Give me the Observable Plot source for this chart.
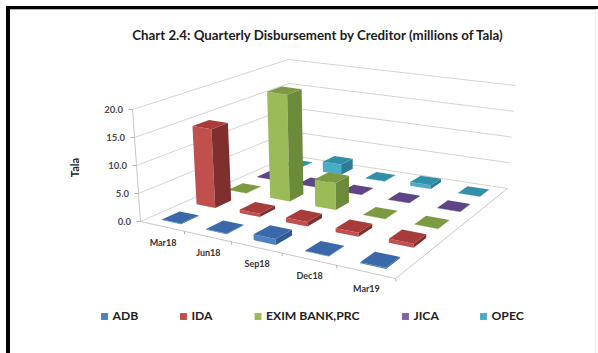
<!DOCTYPE html>
<html>
<head>
<meta charset="utf-8">
<script src="https://cdn.jsdelivr.net/npm/d3@7"></script>
<script src="https://cdn.jsdelivr.net/npm/@observablehq/plot@0.6"></script>
<style>
  html, body { margin: 0; padding: 0; background: #fff; }
  svg { display: block; }
</style>
</head>
<body>
<div id="chart"></div>
<script>
// Quarterly disbursement by creditor, millions of Tala
const quarters = ["Mar18", "Jun18", "Sep18", "Dec18", "Mar19"];
const creditors = ["ADB", "IDA", "EXIM BANK,PRC", "JICA", "OPEC"];
const adb = [0.1, 0.1, 1.0, 0.1, 0.2];
const ida = [14.5, 0.6, 0.8, 0.7, 0.7];
const exim = [0.05, 20.0, 5.0, 0.05, 0.05];
const jica = [0.05, 0.05, 0.05, 0.05, 0.05];
const opec = [0.05, 2.0, 0.05, 0.7, 0.05];
const valueTicks = [0, 5, 10, 15, 20];
const seriesValues = [adb, ida, exim, jica, opec];

// Face colours per creditor: front, top, side
const frontColors = ["#4f81bd", "#c0504d", "#9bbb59", "#8064a2", "#4bacc6"];
const topColors = ["#3a68a8", "#a83c3a", "#7c9a42", "#5f4585", "#3190a8"];
const sideColors = ["#2f5a92", "#7e2f2e", "#6b8a3a", "#4e3870", "#2b7c94"];

// Floor and ceiling corners of the 3D box on the page: [front-left, front-right, back-right, back-left]
const floorCorners = [[140, 221], [395, 278], [507, 188], [290, 155]];
const ceilCorners = [[132, 109], [399, 156], [515, 85], [288, 59]];
const maxValue = 20;

// Homography from the unit square to a quadrilateral
function homography(q) {
  const [[x0, y0], [x1, y1], [x2, y2], [x3, y3]] = q;
  const dx1 = x1 - x2, dx2 = x3 - x2, sx = x0 - x1 + x2 - x3;
  const dy1 = y1 - y2, dy2 = y3 - y2, sy = y0 - y1 + y2 - y3;
  const det = dx1 * dy2 - dx2 * dy1;
  const g = (sx * dy2 - dx2 * sy) / det;
  const h = (dx1 * sy - sx * dy1) / det;
  const a = x1 - x0 + g * x1, b = x3 - x0 + h * x3;
  const d = y1 - y0 + g * y1, e = y3 - y0 + h * y3;
  return (u, v) => {
    const w = g * u + h * v + 1;
    return [(a * u + b * v + x0) / w, (d * u + e * v + y0) / w];
  };
}
const floorAt = homography(floorCorners);
const ceilAt = homography(ceilCorners);

// u runs along the quarters (0..5), v along the creditors (0..5), z is the value
function project(u, v, z) {
  const F = floorAt(u / 5, v / 5), C = ceilAt(u / 5, v / 5), t = z / maxValue;
  return [F[0] + (C[0] - F[0]) * t, F[1] + (C[1] - F[1]) * t];
}

// Bars become three filled faces, drawn from the back of the box to the front
const halfU = 0.22, halfV = 0.25;
const faces = [];
let faceId = 0;
function addFace(corners, color) {
  const id = faceId++;
  for (const c of corners) {
    const [x, y] = project(...c);
    faces.push({ id, x, y, color });
  }
}
for (let s = creditors.length - 1; s >= 0; s--) {
  for (let q = 0; q < quarters.length; q++) {
    const value = seriesValues[s][q];
    const u0 = q + 0.5 - halfU, u1 = q + 0.5 + halfU;
    const v0 = s + 0.5 - halfV, v1 = s + 0.5 + halfV;
    addFace([[u0, v0, 0], [u1, v0, 0], [u1, v0, value], [u0, v0, value]], frontColors[s]);
    addFace([[u1, v0, 0], [u1, v1, 0], [u1, v1, value], [u1, v0, value]], sideColors[s]);
    addFace([[u0, v0, value], [u1, v0, value], [u1, v1, value], [u0, v1, value]], topColors[s]);
  }
}

const seg = (a, b) => ({ x1: a[0], y1: a[1], x2: b[0], y2: b[1] });

// Wall gridlines on the left and back sides of the box
const grid = valueTicks.flatMap((t) => [
  seg(project(0, 0, t), project(0, 5, t)),
  seg(project(0, 5, t), project(5, 5, t))
]);
// Box edges
const edges = [
  seg(project(0, 0, 0), project(0, 0, maxValue)),
  seg(project(0, 0, 0), project(5, 0, 0)),
  seg(project(5, 0, 0), project(5, 5, 0))
];
// Tick marks on the value axis and the quarter axis
const valueTickMarks = valueTicks.map((t) => {
  const p = project(0, 0, t);
  return seg([p[0] - 4, p[1]], p);
});
const quarterTickMarks = d3.range(1, 6).map((i) => {
  const p = project(i, 0, 0);
  return seg(p, [p[0] + 0.5, p[1] + 3]);
});
const valueLabels = valueTicks.map((t) => {
  const p = project(0, 0, t);
  return { x: p[0] - 9.5, y: p[1], text: t.toFixed(1) };
});
const quarterLabels = quarters.map((q, i) => {
  const p = project(i + 0.5, 0, 0);
  return { x: p[0] + 1, y: p[1] + 17, text: q };
});

// Legend row
const legendX = [104, 183, 257.5, 405, 483];
const legendY = 316;
const legendRows = creditors.map((name, i) => ({ name, x: legendX[i], color: frontColors[i] }));

const font = "Lato, 'Open Sans', sans-serif";
const chart = Plot.plot({
  width: 598,
  height: 353,
  margin: 0,
  style: { background: "#fff", fontFamily: font },
  x: { type: "identity", axis: null },
  y: { type: "identity", axis: null },
  color: { type: "identity" },
  marks: [
    // Black frame along the left and top, with a faint rule on the right
    Plot.rectX([{}], { x1: 6, x2: 10, y1: 6, y2: 353, fill: "#000" }),
    Plot.rectX([{}], { x1: 6, x2: 598, y1: 6, y2: 9, fill: "#000" }),
    Plot.rectX([{}], { x1: 10, x2: 596, y1: 9, y2: 10, fill: "#b5b5b5" }),
    Plot.rectX([{}], { x1: 595, x2: 596, y1: 10, y2: 353, fill: "#eeeeee" }),
    Plot.link(grid, { x1: "x1", y1: "y1", x2: "x2", y2: "y2", stroke: "#d4d4d4", strokeWidth: 1 }),
    Plot.link(edges, { x1: "x1", y1: "y1", x2: "x2", y2: "y2", stroke: "#c8c8c8", strokeWidth: 1 }),
    Plot.link(valueTickMarks, { x1: "x1", y1: "y1", x2: "x2", y2: "y2", stroke: "#b0b0b0", strokeWidth: 1 }),
    Plot.link(quarterTickMarks, { x1: "x1", y1: "y1", x2: "x2", y2: "y2", stroke: "#b0b0b0", strokeWidth: 1 }),
    Plot.line(faces, { x: "x", y: "y", z: "id", fill: "color", stroke: null }),
    Plot.text(valueLabels, { x: "x", y: "y", text: "text", textAnchor: "end", fontSize: 9.5, fill: "#4a4a4a", fontWeight: 700 }),
    Plot.text(quarterLabels, { x: "x", y: "y", text: "text", fontSize: 9, fill: "#333", fontWeight: 700 }),
    Plot.text(["Tala"], { x: () => 75, y: () => 167, rotate: -90, fontSize: 11, fontWeight: 700, fill: "#222" }),
    Plot.text(["Chart 2.4: Quarterly Disbursement by Creditor (millions of Tala)"], {
      x: () => 317, y: () => 35, fontSize: 13.3, fontWeight: 700, fill: "#1c1c1c"
    }),
    Plot.dot(legendRows, { x: "x", y: () => legendY, symbol: "square", r: 3.9, fill: "color" }),
    Plot.text(legendRows, { x: (d) => d.x + 8, y: () => legendY, text: "name", textAnchor: "start", fontSize: 12.2, fontWeight: 700, fill: "#222" })
  ]
});
document.getElementById("chart").append(chart);
</script>
</body>
</html>
